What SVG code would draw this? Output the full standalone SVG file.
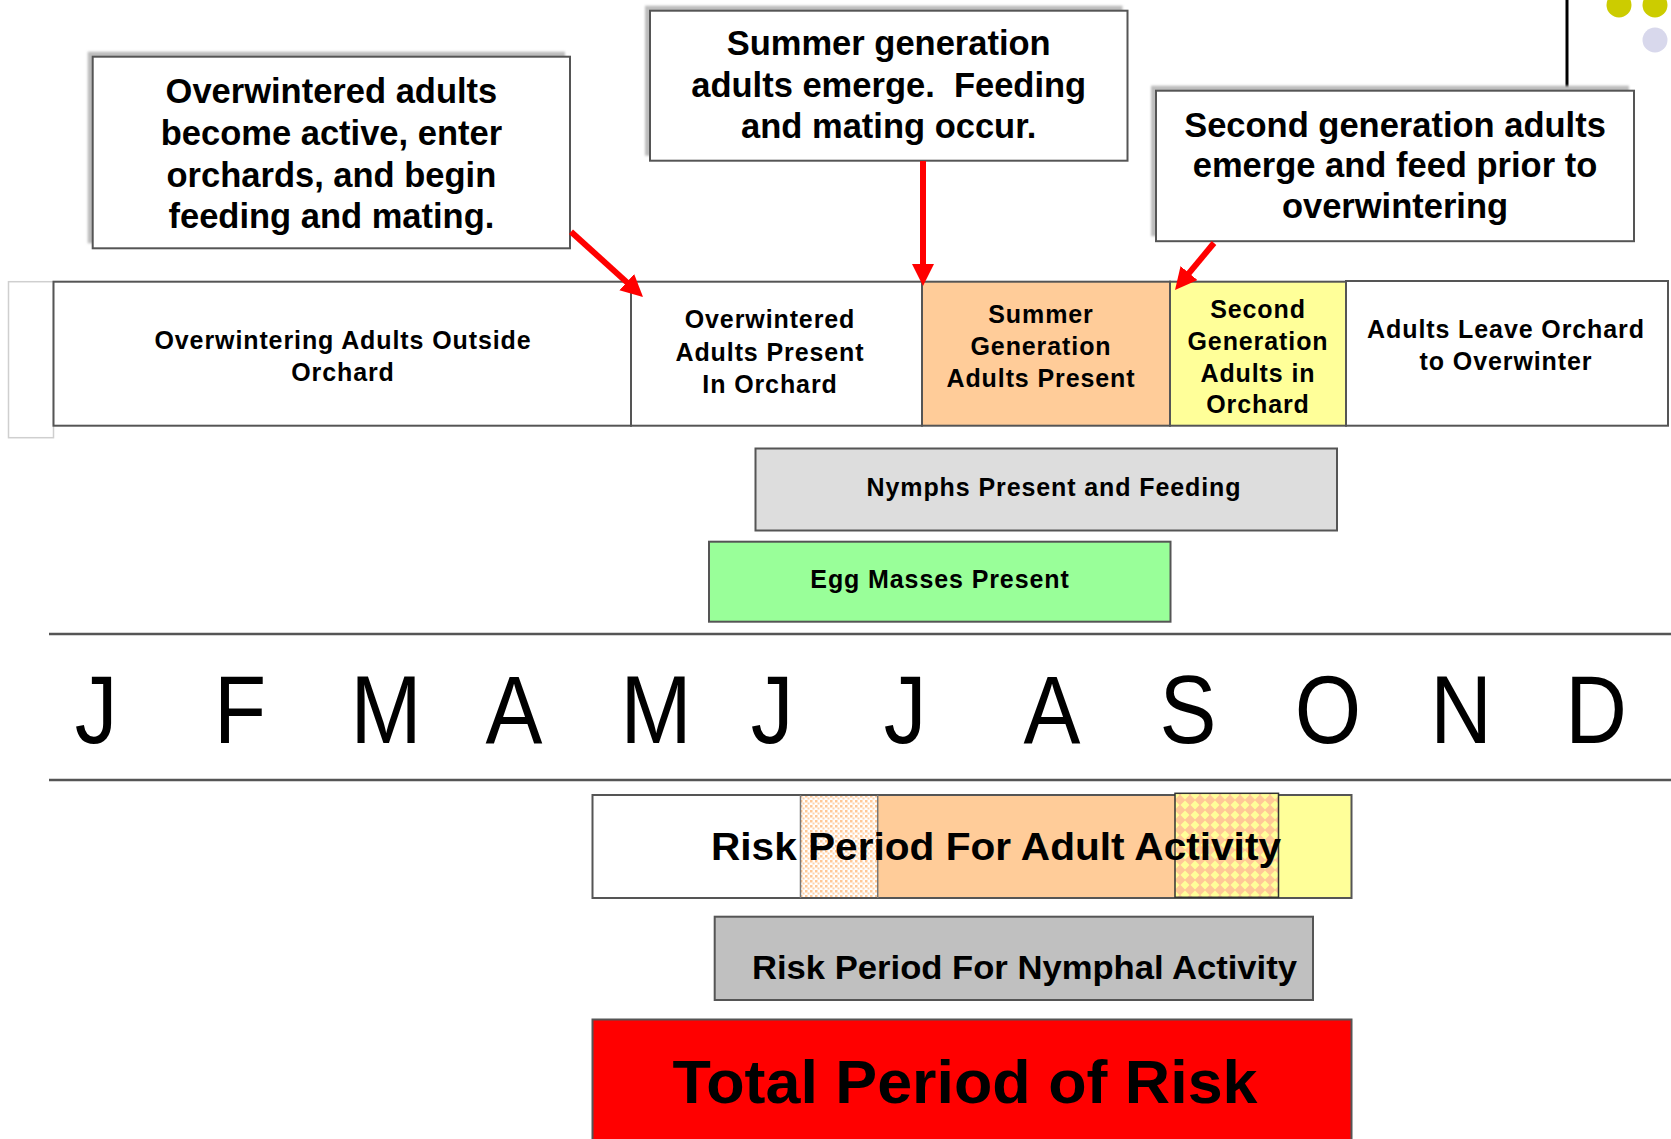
<svg xmlns="http://www.w3.org/2000/svg" width="1671" height="1139" viewBox="0 0 1671 1139">
<style>
.box{stroke:#555;stroke-width:2}
.callout{fill:#fff;stroke:#555;stroke-width:2}
.shadow{fill:#bdbdbd}
.ct{font-family:"Liberation Sans",Arial,sans-serif;font-weight:bold;font-size:34.5px;fill:#000;text-anchor:middle}
.rt{font-family:"Liberation Sans",Arial,sans-serif;font-weight:bold;font-size:25px;letter-spacing:0.9px;fill:#000;text-anchor:middle}
.mt{font-family:"Liberation Sans",Arial,sans-serif;font-size:97px;fill:#000;text-anchor:middle}
.bt{font-family:"Liberation Sans",Arial,sans-serif;font-weight:bold;fill:#000}
.arrow{stroke:#ff0000;stroke-width:6;fill:none}
.rule{stroke:#555;stroke-width:2.5}
</style>
<defs>
<marker id="head" markerUnits="userSpaceOnUse" markerWidth="24" markerHeight="24" refX="4" refY="11" orient="auto">
<path d="M0,0 L22,11 L0,22 z" fill="#ff0000"/>
</marker>
<pattern id="dots" patternUnits="userSpaceOnUse" width="5" height="5">
<rect width="5" height="5" fill="#fff"/>
<rect x="0" y="0" width="2.5" height="2.5" fill="#ffc896"/>
<rect x="2.5" y="2.5" width="2" height="2" fill="#ffd2a8"/>
</pattern>
<pattern id="diamonds" patternUnits="userSpaceOnUse" width="10" height="10">
<rect width="10" height="10" fill="#ffc896"/>
<path d="M5,0.5 L9.5,5 L5,9.5 L0.5,5 z" fill="#ffff99"/>
</pattern>
<filter id="blur" x="-5%" y="-5%" width="110%" height="110%"><feGaussianBlur stdDeviation="1.2"/></filter>
</defs>

<g id="decor">
<line x1="1567" y1="0" x2="1567" y2="91" stroke="#000" stroke-width="3"/>
<circle cx="1619" cy="5" r="12.5" fill="#cccc00"/>
<circle cx="1655" cy="5" r="12.5" fill="#cccc00"/>
<circle cx="1655" cy="40" r="12.5" fill="#d8d8ec"/>
</g>

<g id="callout1">
<rect class="shadow" x="87.7" y="51.7" width="477.3" height="191.6" filter="url(#blur)"/>
<rect class="callout" x="92.7" y="56.7" width="477.3" height="191.6"/>
<text class="ct" x="331.4" y="102.5">Overwintered adults</text>
<text class="ct" x="331.4" y="144.5">become active, enter</text>
<text class="ct" x="331.4" y="186.5">orchards, and begin</text>
<text class="ct" x="331.4" y="228">feeding and mating.</text>
</g>

<g id="callout2">
<rect class="shadow" x="645" y="5.7" width="477.5" height="150" filter="url(#blur)"/>
<rect class="callout" x="650" y="10.7" width="477.5" height="150"/>
<text class="ct" x="888.7" y="55">Summer generation</text>
<text class="ct" x="888.7" y="97" xml:space="preserve">adults emerge.  Feeding</text>
<text class="ct" x="888.7" y="138.3">and mating occur.</text>
</g>

<g id="callout3">
<rect class="shadow" x="1151" y="85.7" width="478" height="150.5" filter="url(#blur)"/>
<rect class="callout" x="1156" y="90.7" width="478" height="150.5"/>
<text class="ct" x="1395" y="136.5">Second generation adults</text>
<text class="ct" x="1395" y="177.3">emerge and feed prior to</text>
<text class="ct" x="1395" y="218.3">overwintering</text>
</g>

<g id="left-stub">
<rect x="8.5" y="281.7" width="45" height="156" fill="#fff" stroke="#cfcfcf" stroke-width="1.5"/>
</g>

<g id="row-outside">
<rect class="box" x="53.5" y="281.7" width="577.5" height="144" fill="#fff"/>
<text class="rt" x="343" y="348.5">Overwintering Adults Outside</text>
<text class="rt" x="343" y="380.7">Orchard</text>
</g>

<g id="row-overwintered">
<rect class="box" x="631" y="281.7" width="291" height="144" fill="#fff"/>
<text class="rt" x="770" y="328">Overwintered</text>
<text class="rt" x="770" y="360.5">Adults Present</text>
<text class="rt" x="770" y="392.7">In Orchard</text>
</g>

<g id="row-summer">
<rect class="box" x="922" y="281.7" width="248" height="144" fill="#ffcc99"/>
<text class="rt" x="1041" y="323.3">Summer</text>
<text class="rt" x="1041" y="355">Generation</text>
<text class="rt" x="1041" y="386.7">Adults Present</text>
</g>

<g id="row-second">
<rect class="box" x="1170" y="281.7" width="176" height="144" fill="#ffff99"/>
<text class="rt" x="1258" y="318.3">Second</text>
<text class="rt" x="1258" y="350">Generation</text>
<text class="rt" x="1258" y="381.7">Adults in</text>
<text class="rt" x="1258" y="413.3">Orchard</text>
</g>

<g id="row-leave">
<rect class="box" x="1346" y="281" width="322" height="144.7" fill="#fff"/>
<text class="rt" x="1506" y="338.3">Adults Leave Orchard</text>
<text class="rt" x="1506" y="370">to Overwinter</text>
</g>

<g id="nymphs">
<rect class="box" x="755.5" y="448.5" width="581.5" height="82" fill="#dddddd"/>
<text class="rt" x="1054" y="495.5">Nymphs Present and Feeding</text>
</g>

<g id="eggs">
<rect class="box" x="709" y="541.7" width="461.5" height="80" fill="#99ff99"/>
<text class="rt" x="940" y="587.5">Egg Masses Present</text>
</g>

<g id="months">
<line class="rule" x1="49" y1="634" x2="1671" y2="634"/>
<line class="rule" x1="49" y1="780" x2="1671" y2="780"/>
<g transform="scale(0.88,1)">
<text class="mt" x="109.1" y="743">J</text>
<text class="mt" x="272.7" y="743">F</text>
<text class="mt" x="438.6" y="743">M</text>
<text class="mt" x="584.1" y="743">A</text>
<text class="mt" x="745.5" y="743">M</text>
<text class="mt" x="877.3" y="743">J</text>
<text class="mt" x="1028.4" y="743">J</text>
<text class="mt" x="1195.5" y="743">A</text>
<text class="mt" x="1350" y="743">S</text>
<text class="mt" x="1509.1" y="743">O</text>
<text class="mt" x="1660.2" y="743">N</text>
<text class="mt" x="1813.6" y="743">D</text>
</g>
</g>

<g id="risk-adult">
<rect x="592.5" y="795" width="208" height="103" fill="#fff"/>
<rect x="800.5" y="795" width="77.2" height="103" fill="url(#dots)"/>
<rect x="877.7" y="795" width="297.3" height="103" fill="#ffcc99"/>
<rect x="1278.5" y="795" width="73" height="103" fill="#ffff99"/>
<rect x="592.5" y="795" width="759" height="103" fill="none" stroke="#555" stroke-width="2"/>
<line x1="800.5" y1="795" x2="800.5" y2="898" stroke="#777" stroke-width="1.5"/>
<line x1="877.7" y1="795" x2="877.7" y2="898" stroke="#777" stroke-width="1.5"/>
<rect x="1175" y="793.3" width="103.5" height="104" fill="url(#diamonds)" stroke="#333" stroke-width="1.5"/>
<text class="bt" x="711" y="860" font-size="38" textLength="570" lengthAdjust="spacingAndGlyphs">Risk Period For Adult Activity</text>
</g>

<g id="risk-nymphal">
<rect class="box" x="714.7" y="916.7" width="598.3" height="83.3" fill="#c0c0c0"/>
<text class="bt" x="752" y="979.3" font-size="34" textLength="545" lengthAdjust="spacingAndGlyphs">Risk Period For Nymphal Activity</text>
</g>

<g id="total-risk">
<rect x="592.5" y="1019.5" width="759" height="125" fill="#ff0000" stroke="#555" stroke-width="2"/>
<text class="bt" x="672.5" y="1102.7" font-size="62" textLength="585" lengthAdjust="spacingAndGlyphs">Total Period of Risk</text>
</g>

<g id="connectors">
<line class="arrow" x1="571" y1="231.7" x2="629.7" y2="284.9" marker-end="url(#head)"/>
<line class="arrow" x1="923" y1="161" x2="923" y2="268" marker-end="url(#head)"/>
<line class="arrow" x1="1214" y1="243" x2="1186.5" y2="276.2" marker-end="url(#head)"/>
</g>
</svg>
